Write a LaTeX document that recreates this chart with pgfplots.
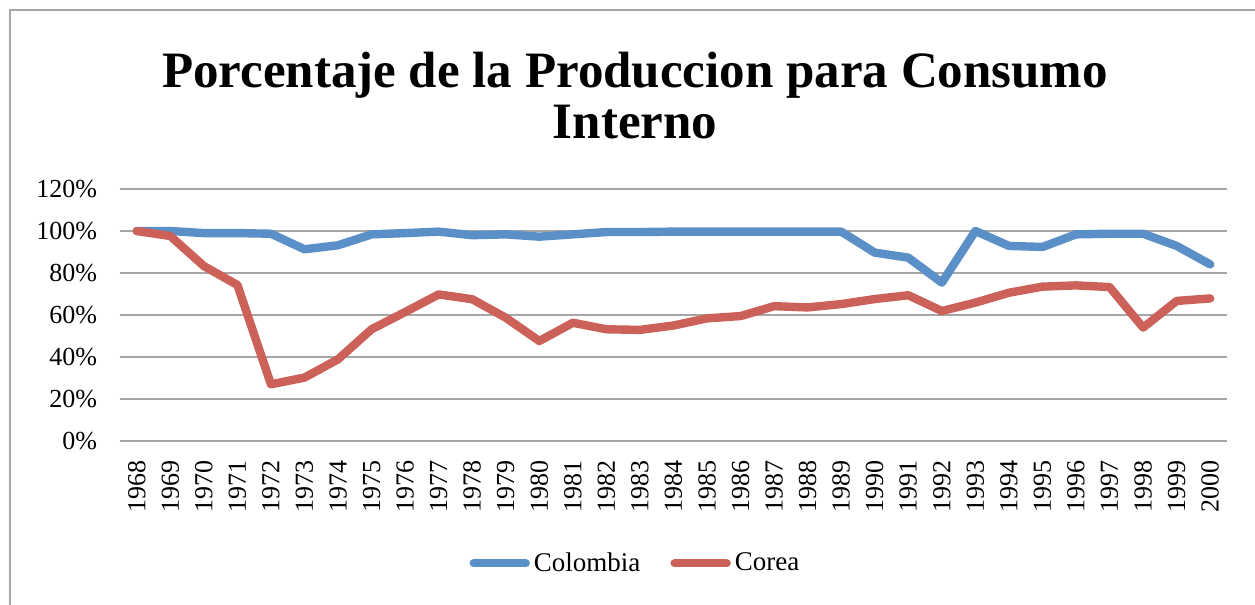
\documentclass[border=0pt]{standalone}
\usepackage{pgfplots}
\pgfplotsset{compat=1.18}
\usepackage{fontspec}
\setmainfont{Liberation Serif}
\definecolor{colBlue}{HTML}{5A8FC7}
\definecolor{colRed}{HTML}{CC6159}
\definecolor{gridGray}{HTML}{A6A6A6}
\begin{document}
\begin{tikzpicture}
  \useasboundingbox (0pt,0pt) rectangle (627.5pt,302.5pt);
  % chart border (right and bottom edges fall outside the picture)
  \draw[gridGray, line width=1pt] (5pt,0pt) -- (5pt,297.5pt) -- (627.5pt,297.5pt);
  \node[anchor=base, font=\fontsize{25.5}{27}\selectfont\bfseries] at (317.5pt,258.5pt)
    {Porcentaje de la Produccion para Consumo};
  \node[anchor=base, font=\fontsize{25.5}{27}\selectfont\bfseries] at (317.5pt,233pt)
    {Interno};
  \begin{axis}[
      at={(60pt,82pt)}, anchor=south west,
      scale only axis, width=553.5pt, height=126pt,
      xmin=1967.5, xmax=2000.5, ymin=0, ymax=1.2,
      xtick={1968,1969,...,2000},
      ytick={0,0.2,0.4,0.6,0.8,1.0,1.2},
      yticklabels={0\%,20\%,40\%,60\%,80\%,100\%,120\%},
      /pgf/number format/1000 sep={},
      /pgf/number format/assume math mode=true,
      tick label style={font=\fontsize{13}{14}\selectfont},
      xticklabel style={rotate=90, anchor=east},
      xticklabel shift=6pt,
      yticklabel style={xshift=-8pt},
      major tick length=0pt,
      axis line style={draw=none},
      ymajorgrids, grid style={gridGray, line width=1pt},
      legend style={at={(0.4665,-0.485)}, anchor=center, draw=none, fill=none,
        legend columns=2, font=\fontsize{13.5}{14}\selectfont,
        /tikz/every even column/.append style={column sep=13pt}},
      legend image code/.code={\draw[#1, line cap=round] (0pt,0pt) -- (26pt,0pt);},
      every axis plot/.append style={line width=4.2pt, line join=round, line cap=round},
      clip=false,
    ]
    \addplot[colBlue] coordinates {
      (1968,1.000) (1969,1.000) (1970,0.990) (1971,0.990) (1972,0.987)
      (1973,0.913) (1974,0.932) (1975,0.984) (1976,0.990) (1977,0.997)
      (1978,0.980) (1979,0.984) (1980,0.973) (1981,0.984) (1982,0.995)
      (1983,0.995) (1984,0.997) (1985,0.997) (1986,0.997) (1987,0.997)
      (1988,0.997) (1989,0.997) (1990,0.897) (1991,0.873) (1992,0.754)
      (1993,1.000) (1994,0.929) (1995,0.924) (1996,0.984) (1997,0.987)
      (1998,0.987) (1999,0.929) (2000,0.841)};
    \addplot[colRed] coordinates {
      (1968,1.000) (1969,0.976) (1970,0.833) (1971,0.743) (1972,0.270)
      (1973,0.302) (1974,0.389) (1975,0.532) (1976,0.614) (1977,0.698)
      (1978,0.675) (1979,0.587) (1980,0.476) (1981,0.563) (1982,0.532)
      (1983,0.529) (1984,0.550) (1985,0.584) (1986,0.595) (1987,0.642)
      (1988,0.636) (1989,0.652) (1990,0.676) (1991,0.694) (1992,0.619)
      (1993,0.659) (1994,0.706) (1995,0.735) (1996,0.741) (1997,0.733)
      (1998,0.540) (1999,0.667) (2000,0.679)};
    \legend{Colombia,Corea}
  \end{axis}
\end{tikzpicture}
\end{document}
